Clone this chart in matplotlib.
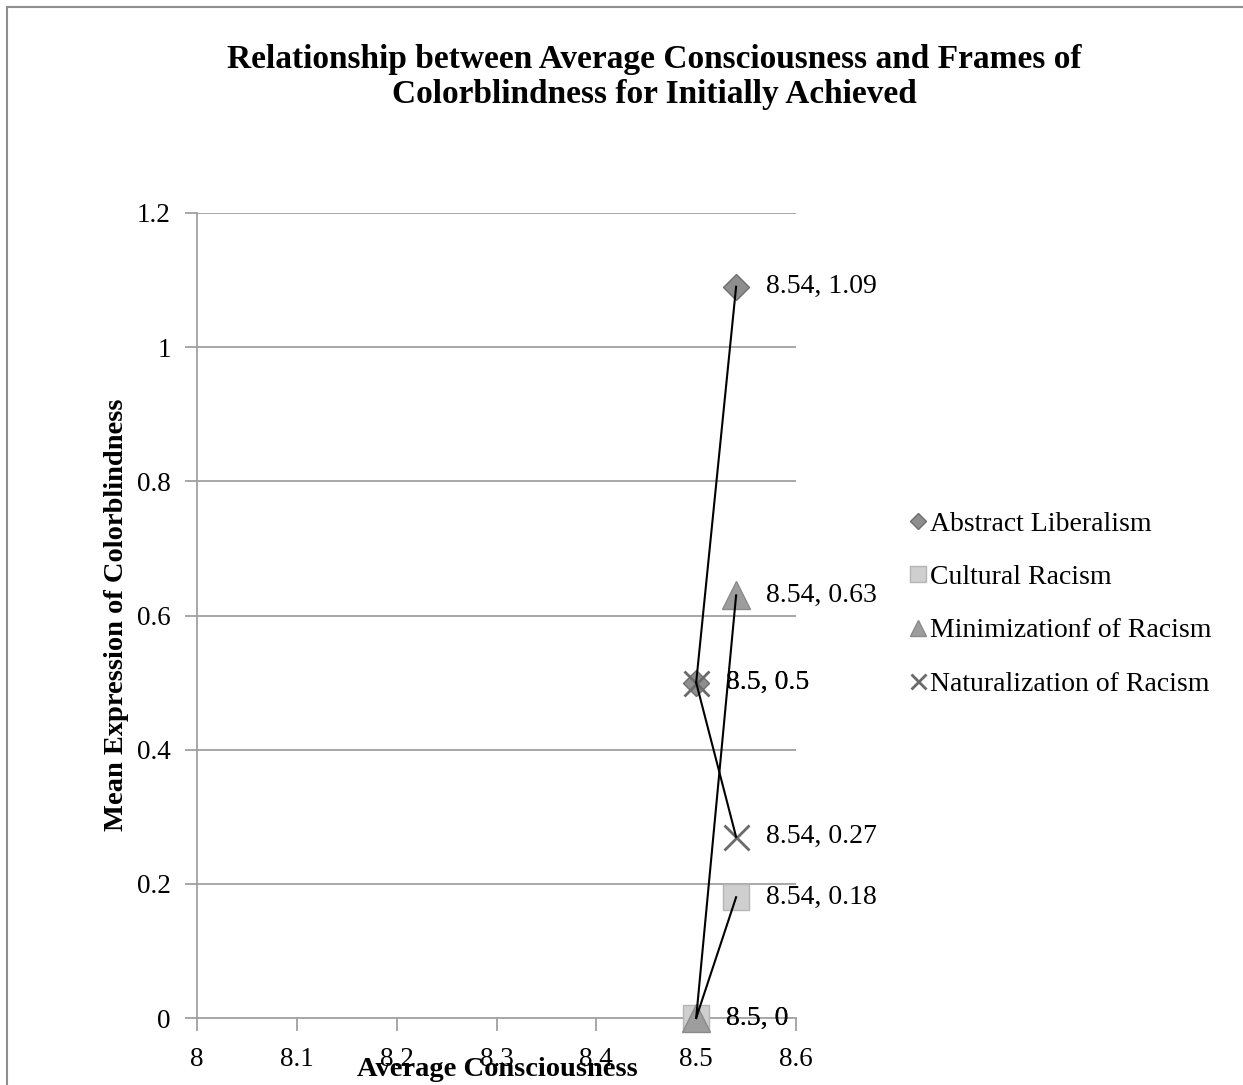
import matplotlib
matplotlib.use("Agg")
import matplotlib.pyplot as plt
from matplotlib.lines import Line2D

plt.rcParams['font.family'] = ['Liberation Serif', 'DejaVu Serif']

# Data: each frame has two points (x = average consciousness, y = mean expression)
series_names = ["Abstract Liberalism", "Cultural Racism",
                "Minimizationf of Racism", "Naturalization of Racism"]
x_values = [8.5, 8.54]
abstract_liberalism = [0.5, 1.09]
cultural_racism = [0.0, 0.18]
minimization = [0.0, 0.63]
naturalization = [0.5, 0.27]
all_series = [abstract_liberalism, cultural_racism, minimization, naturalization]

x_ticks = [8.0, 8.1, 8.2, 8.3, 8.4, 8.5, 8.6]
x_tick_labels = ["8", "8.1", "8.2", "8.3", "8.4", "8.5", "8.6"]
y_ticks = [0, 0.2, 0.4, 0.6, 0.8, 1.0, 1.2]
y_tick_labels = ["0", "0.2", "0.4", "0.6", "0.8", "1", "1.2"]

marker_styles = [
    dict(marker="D", markersize=13, markerfacecolor="#8e8e8e", markeredgecolor="#6e6e6e", markeredgewidth=1.0),
    dict(marker="s", markersize=19, markerfacecolor="#cfcfcf", markeredgecolor="#b5b5b5", markeredgewidth=1.0),
    dict(marker="^", markersize=20, markerfacecolor="#9d9d9d", markeredgecolor="#8a8a8a", markeredgewidth=1.0),
    dict(marker="x", markersize=18, markerfacecolor="none", markeredgecolor="#6a6a6a", markeredgewidth=2.0),
]

W, H = 1243, 1085
fig = plt.figure(figsize=(W / 100, H / 100), dpi=100)

# thin frame around the chart area (top and left edges visible)
fig.add_artist(Line2D([7 / W, 1.0], [1 - 7 / H, 1 - 7 / H], color="#8f8f8f", lw=1.5))
fig.add_artist(Line2D([7 / W, 7 / W], [0, 1 - 7 / H], color="#8f8f8f", lw=1.5))

ax = fig.add_axes([197 / W, 1 - 1018 / H, (796 - 197) / W, (1018 - 213) / H])
ax.set_xlim(8.0, 8.6)
ax.set_ylim(0, 1.2)

grid_c = "#a0a0a0"
for yv in y_ticks[1:]:
    ax.axhline(yv, color=grid_c, lw=1.3, zorder=0)

for s in ["top", "right"]:
    ax.spines[s].set_visible(False)
for s in ["left", "bottom"]:
    ax.spines[s].set_color(grid_c)
    ax.spines[s].set_linewidth(1.3)

ax.set_xticks(x_ticks)
ax.set_xticklabels(x_tick_labels)
ax.set_yticks(y_ticks)
ax.set_yticklabels(y_tick_labels)
ax.tick_params(axis="both", colors=grid_c, length=9, width=1.3, labelsize=19.5,
               labelcolor="black")
ax.tick_params(axis="y", pad=10)
ax.tick_params(axis="x", pad=12)

for ys, ms in zip(all_series, marker_styles):
    ax.plot(x_values, ys, linestyle="none", zorder=3, clip_on=False, **ms)
    ax.plot(x_values, ys, color="black", lw=1.5, zorder=4, clip_on=False)
    for xv, yv in zip(x_values, ys):
        ax.annotate(f"{xv:g}, {yv:g}", (xv, yv), xytext=(30, 0),
                    textcoords="offset pixels",
                    va="center", ha="left", fontsize=20, zorder=5,
                    annotation_clip=False)

fig.text(654 / W, 1 - 77 / H,
         "Relationship between Average Consciousness and Frames of\nColorblindness for Initially Achieved",
         ha="center", va="center", fontsize=24, fontweight="bold", linespacing=1.16)

fig.text(117 / W, 1 - 615 / H, "Mean Expression of Colorblindness", rotation=90,
         ha="center", va="center", fontsize=20.5, fontweight="bold")
fig.text(497 / W, 1 - 1069 / H, "Average Consciousness",
         ha="center", va="center", fontsize=20.5, fontweight="bold")

handles = [Line2D([], [], linestyle="none", **{**ms, "markersize": ms["markersize"] * 0.6})
           for ms in marker_styles]
leg = fig.legend(handles, series_names, loc="center left",
                 bbox_to_anchor=(899 / W, 1 - 604 / H), frameon=False,
                 fontsize=20, handlelength=0.6, handletextpad=0.1,
                 labelspacing=1.0, borderaxespad=0)

fig.savefig("out.png", dpi=100)
